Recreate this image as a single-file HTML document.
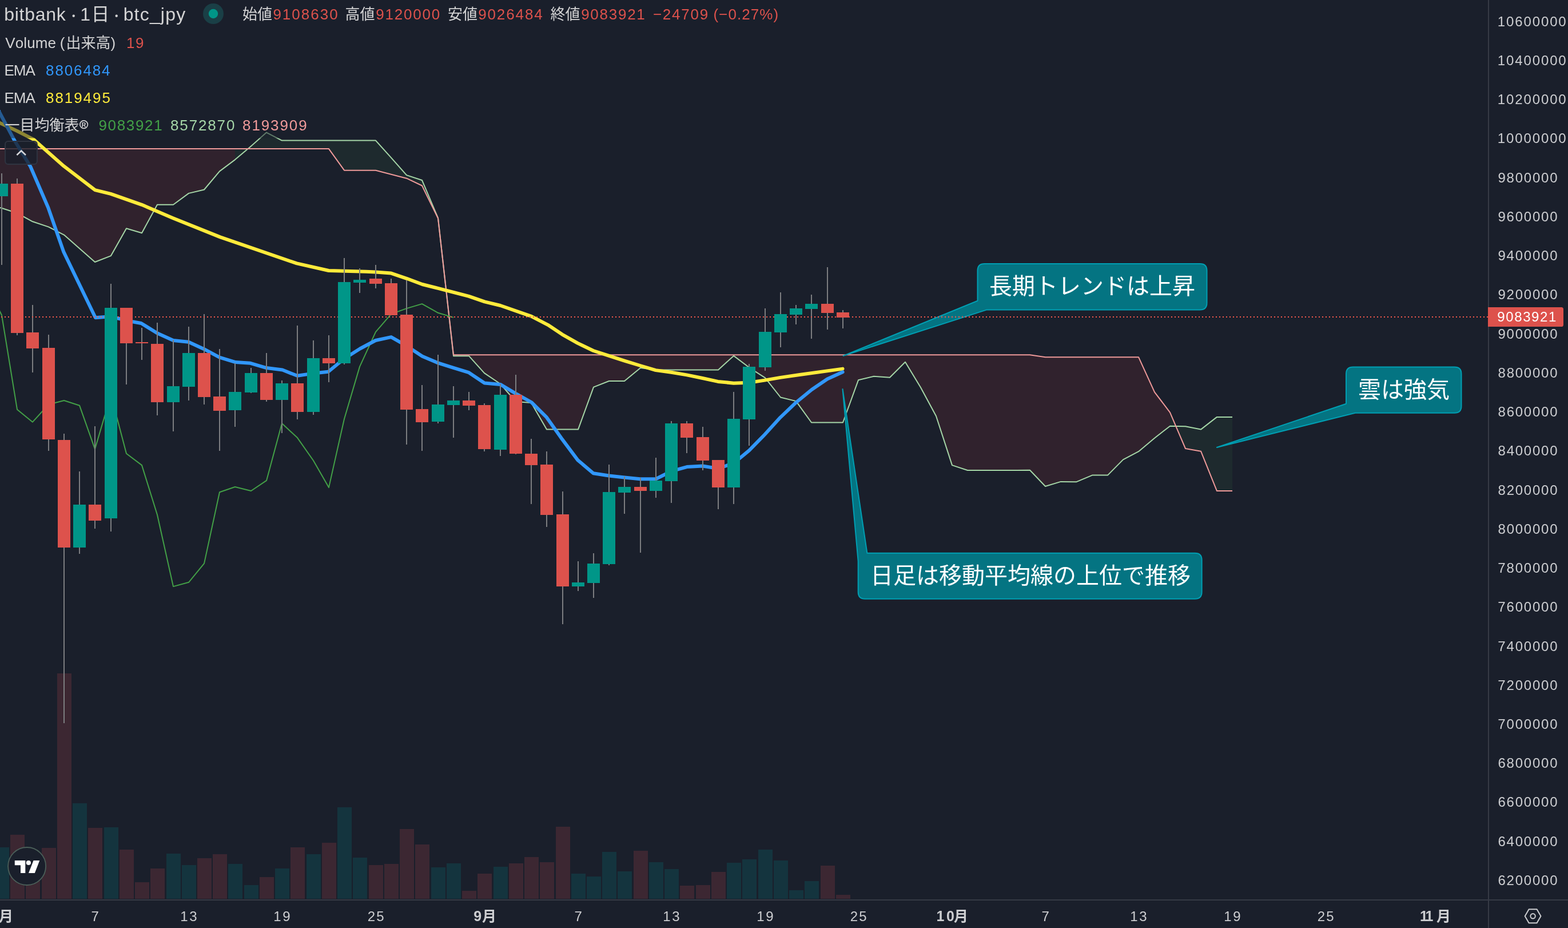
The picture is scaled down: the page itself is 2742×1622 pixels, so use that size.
<!DOCTYPE html>
<html lang="ja">
<head>
<meta charset="utf-8">
<title>bitbank 1D btc_jpy</title>
<style>
html,body{margin:0;padding:0;background:#1a1f2b;overflow:hidden}
body{width:2742px;height:1622px}
svg{display:block;will-change:transform}
text{font-family:"Liberation Sans","Noto Sans CJK JP",sans-serif;font-kerning:none;white-space:pre}
</style>
</head>
<body>
<svg width="2742" height="1622" viewBox="0 0 2742 1622">
<rect width="2742" height="1622" fill="#1a1f2b"/>
<polygon fill="#30222d" points="-24,356.8 3,363.8 30,372.5 57,387.3 85,396.6 112,410.6 139,434.3 166,458 194,447.1 221,399.2 248,407.2 275,357.8 303,357.8 330,337.9 357,331.5 384,299.4 411,279.1 411,260.1 384,260.1 357,260.1 330,260.1 303,260.1 275,260.1 248,260.1 221,260.1 194,260.1 166,260.1 139,260.1 112,260.1 85,260.1 57,260.1 30,260.1 3,260.1 -24,260.1"/>
<polygon fill="#1e2a2e" points="411,279.1 439,255.4 466,231.6 493,245.6 520,245.6 548,245.6 575,245.6 602,245.6 629,245.6 657,245.6 684,275.7 711,306.1 738,315 766,380.9 766,381.5 738,324.5 711,311.7 684,304.7 657,297.7 629,297.7 602,297.7 575,260.1 548,260.1 520,260.1 493,260.1 466,260.1 439,260.1 411,260.1"/>
<polygon fill="#30222d" points="820,622.2 847,652.2 875,671 902,702 929,704 956,750.6 984,750.6 1011,750.6 1038,676.6 1065,666 1092,666 1120,643.1 1147,646.5 1174,646.5 1201,646.5 1229,646.5 1256,646.5 1283,621.9 1310,642.3 1338,660.4 1365,694.5 1392,701.1 1419,738.5 1447,738.5 1474,738.5 1501,664.3 1528,657.8 1556,659.8 1583,632.8 1610,677.2 1637,727.2 1665,813.1 1692,822 1719,822 1746,822 1773,822 1801,821.8 1828,850 1855,841.9 1882,842.3 1910,830.6 1937,830.6 1964,803.4 1991,789.2 2019,765.7 2046,744.7 2046,720.8 2019,685.3 1991,624.2 1964,624.2 1937,624.2 1910,624.2 1882,624.2 1855,624.2 1828,624.2 1801,620.2 1773,620.2 1746,620.2 1719,620.2 1692,620.2 1665,620.2 1637,620.2 1610,620.2 1583,620.2 1556,620.2 1528,620.2 1501,620.2 1474,620.2 1447,620.2 1419,620.2 1392,620.2 1365,620.2 1338,620.2 1310,620.2 1283,620.2 1256,620.2 1229,620.2 1201,620.2 1174,620.2 1147,620.2 1120,620.2 1092,620.2 1065,620.2 1038,620.2 1011,620.2 984,620.2 956,620.2 929,620.2 902,620.2 875,620.2 847,620.2 820,620.2"/>
<polygon fill="#1e2a2e" points="2046,744.7 2073,745.3 2100,750.6 2128,728.9 2155,728.9 2155,858.1 2128,858.1 2100,788.7 2073,784 2046,720.8"/>
<rect x="-9" y="1481" width="25" height="90" fill="#14343e"/>
<rect x="18" y="1459" width="25" height="112" fill="#3c2732"/>
<rect x="45" y="1490" width="25" height="81" fill="#3c2732"/>
<rect x="73" y="1482" width="25" height="89" fill="#3c2732"/>
<rect x="100" y="1177" width="25" height="394" fill="#3c2732"/>
<rect x="127" y="1404" width="25" height="167" fill="#14343e"/>
<rect x="154" y="1447" width="25" height="124" fill="#3c2732"/>
<rect x="182" y="1446" width="25" height="125" fill="#14343e"/>
<rect x="209" y="1485" width="25" height="86" fill="#3c2732"/>
<rect x="236" y="1542" width="25" height="29" fill="#3c2732"/>
<rect x="263" y="1518" width="25" height="53" fill="#3c2732"/>
<rect x="291" y="1492" width="25" height="79" fill="#14343e"/>
<rect x="318" y="1512" width="25" height="59" fill="#14343e"/>
<rect x="345" y="1500" width="25" height="71" fill="#3c2732"/>
<rect x="372" y="1493" width="25" height="78" fill="#3c2732"/>
<rect x="399" y="1510" width="25" height="61" fill="#14343e"/>
<rect x="427" y="1547" width="25" height="24" fill="#14343e"/>
<rect x="454" y="1533" width="25" height="38" fill="#3c2732"/>
<rect x="481" y="1518" width="25" height="53" fill="#14343e"/>
<rect x="508" y="1481" width="25" height="90" fill="#3c2732"/>
<rect x="536" y="1493" width="25" height="78" fill="#14343e"/>
<rect x="563" y="1473" width="25" height="98" fill="#3c2732"/>
<rect x="590" y="1411" width="25" height="160" fill="#14343e"/>
<rect x="617" y="1499" width="25" height="72" fill="#14343e"/>
<rect x="645" y="1512" width="25" height="59" fill="#3c2732"/>
<rect x="672" y="1510" width="25" height="61" fill="#3c2732"/>
<rect x="699" y="1449" width="25" height="122" fill="#3c2732"/>
<rect x="726" y="1476" width="25" height="95" fill="#3c2732"/>
<rect x="754" y="1516" width="25" height="55" fill="#14343e"/>
<rect x="781" y="1509" width="25" height="62" fill="#14343e"/>
<rect x="808" y="1557" width="25" height="14" fill="#3c2732"/>
<rect x="835" y="1527" width="25" height="44" fill="#3c2732"/>
<rect x="863" y="1515" width="25" height="56" fill="#14343e"/>
<rect x="890" y="1509" width="25" height="62" fill="#3c2732"/>
<rect x="917" y="1498" width="25" height="73" fill="#3c2732"/>
<rect x="944" y="1507" width="25" height="64" fill="#3c2732"/>
<rect x="972" y="1445" width="25" height="126" fill="#3c2732"/>
<rect x="999" y="1527" width="25" height="44" fill="#14343e"/>
<rect x="1026" y="1532" width="25" height="39" fill="#14343e"/>
<rect x="1053" y="1489" width="25" height="82" fill="#14343e"/>
<rect x="1080" y="1523" width="25" height="48" fill="#14343e"/>
<rect x="1108" y="1487" width="25" height="84" fill="#3c2732"/>
<rect x="1135" y="1507" width="25" height="64" fill="#14343e"/>
<rect x="1162" y="1519" width="25" height="52" fill="#14343e"/>
<rect x="1189" y="1548" width="25" height="23" fill="#3c2732"/>
<rect x="1217" y="1547" width="25" height="24" fill="#3c2732"/>
<rect x="1244" y="1524" width="25" height="47" fill="#3c2732"/>
<rect x="1271" y="1508" width="25" height="63" fill="#14343e"/>
<rect x="1298" y="1502" width="25" height="69" fill="#14343e"/>
<rect x="1326" y="1485" width="25" height="86" fill="#14343e"/>
<rect x="1353" y="1504" width="25" height="67" fill="#14343e"/>
<rect x="1380" y="1556" width="25" height="15" fill="#14343e"/>
<rect x="1407" y="1540" width="25" height="31" fill="#14343e"/>
<rect x="1435" y="1513" width="25" height="58" fill="#3c2732"/>
<rect x="1462" y="1564" width="25" height="7" fill="#3c2732"/>
<polyline fill="none" stroke="#a5d6a7" stroke-width="2" stroke-linejoin="round" points="-24,356.8 3,363.8 30,372.5 57,387.3 85,396.6 112,410.6 139,434.3 166,458 194,447.1 221,399.2 248,407.2 275,357.8 303,357.8 330,337.9 357,331.5 384,299.4 411,279.1 439,255.4 466,231.6 493,245.6 520,245.6 548,245.6 575,245.6 602,245.6 629,245.6 657,245.6 684,275.7 711,306.1 738,315 766,380.9 793,622.2 820,622.2 847,652.2 875,671 902,702 929,704 956,750.6 984,750.6 1011,750.6 1038,676.6 1065,666 1092,666 1120,643.1 1147,646.5 1174,646.5 1201,646.5 1229,646.5 1256,646.5 1283,621.9 1310,642.3 1338,660.4 1365,694.5 1392,701.1 1419,738.5 1447,738.5 1474,738.5 1501,664.3 1528,657.8 1556,659.8 1583,632.8 1610,677.2 1637,727.2 1665,813.1 1692,822 1719,822 1746,822 1773,822 1801,821.8 1828,850 1855,841.9 1882,842.3 1910,830.6 1937,830.6 1964,803.4 1991,789.2 2019,765.7 2046,744.7 2073,745.3 2100,750.6 2128,728.9 2155,728.9"/>
<polyline fill="none" stroke="#ef9a9a" stroke-width="2" stroke-linejoin="round" points="-24,260.1 3,260.1 30,260.1 57,260.1 85,260.1 112,260.1 139,260.1 166,260.1 194,260.1 221,260.1 248,260.1 275,260.1 303,260.1 330,260.1 357,260.1 384,260.1 411,260.1 439,260.1 466,260.1 493,260.1 520,260.1 548,260.1 575,260.1 602,297.7 629,297.7 657,297.7 684,304.7 711,311.7 738,324.5 766,381.5 793,620.2 820,620.2 847,620.2 875,620.2 902,620.2 929,620.2 956,620.2 984,620.2 1011,620.2 1038,620.2 1065,620.2 1092,620.2 1120,620.2 1147,620.2 1174,620.2 1201,620.2 1229,620.2 1256,620.2 1283,620.2 1310,620.2 1338,620.2 1365,620.2 1392,620.2 1419,620.2 1447,620.2 1474,620.2 1501,620.2 1528,620.2 1556,620.2 1583,620.2 1610,620.2 1637,620.2 1665,620.2 1692,620.2 1719,620.2 1746,620.2 1773,620.2 1801,620.2 1828,624.2 1855,624.2 1882,624.2 1910,624.2 1937,624.2 1964,624.2 1991,624.2 2019,685.3 2046,720.8 2073,784 2100,788.7 2128,858.1 2155,858.1"/>
<polyline fill="none" stroke="#43a047" stroke-width="2" stroke-linejoin="round" points="-24,496.1 3,550.8 30,715.7 57,737.7 85,707 112,700 139,708.7 166,784.9 194,690 221,792.7 248,813.1 275,899.8 303,1025.1 330,1017.8 357,984.9 384,860.2 411,851 439,858 466,839.9 493,740 520,765.1 548,805 575,852.1 602,732.2 629,640.9 657,580.1 684,548.9 711,539.1 738,531.1 766,546.8 793,554.9"/>
<polyline fill="none" stroke="#ffeb3b" stroke-width="6" stroke-linejoin="round" stroke-linecap="round" points="-10,210.2 0,214.9 30,229 58.6,243.6 111.4,290.2 166.2,332.1 193.7,338.8 247.8,357.8 302.5,381.2 385,414.4 519,460.4 574.8,473 640,474.7 656.8,475.4 684,477.6 711.2,486.8 738.5,497 766,503.9 820,517.8 847.5,527.4 875,534 929.2,552.8 958.1,567.8 983.2,584.6 1010.3,599.9 1037.6,613 1065,621.9 1092,630.6 1119.4,639 1146.7,647.1 1173.8,650.7 1201.1,655.4 1228.5,661 1255.5,666.9 1282.9,669.7 1310,668.8 1337.3,664.6 1364.6,659.9 1400,654.8 1473.6,644.6"/>
<polyline fill="none" stroke="#3197fb" stroke-width="6" stroke-linejoin="round" stroke-linecap="round" points="-10,179.2 0,198 24.6,244.2 53.2,291 84.2,362.8 111.4,440.4 166.9,555.3 192.5,553.3 231.6,562.2 246.9,565 274.8,582.3 303,594.9 329.8,597.7 356.9,610.2 383.9,624.7 411.8,633.1 438,634.8 466,643.1 493.9,646.5 519.8,656.8 548,652.6 574,649.8 601.8,627 629.5,609.5 656.8,595 684,589.1 711.2,604.7 738.5,622.8 766,634.4 792.9,642.8 819.9,651.2 847.2,669.6 875,671.9 901.9,687.8 929.2,703 955.9,729.4 983.2,767.9 1010.3,804.1 1037.6,827.3 1065,831.5 1092,834.6 1119.4,837.3 1146.7,837.3 1173.8,823.7 1201.1,816.1 1228.5,814.5 1255.5,818.9 1282.9,809.7 1310,787.4 1337.3,759.5 1364.6,729.6 1392,703.5 1419.5,681 1446.7,662.5 1473.6,650.2"/>
<path d="M1721.5 461 H2098.5 Q2110.5 461 2110.5 473 V529.6 Q2110.5 541.6 2098.5 541.6 H1725 L1474.7 621.9 L1709.5 525.7 V473 Q1709.5 461 1721.5 461 Z" fill="#047482" stroke="#009fb3" stroke-width="2" stroke-linejoin="round"/>
<text x="1730" y="514" font-size="40" fill="#ffffff">長期トレンドは上昇</text>
<path d="M2366 641.5 H2543.5 Q2555.5 641.5 2555.5 653.5 V709.7 Q2555.5 721.7 2543.5 721.7 H2370 L2127.9 782 L2354 705.7 V653.5 Q2354 641.5 2366 641.5 Z" fill="#047482" stroke="#009fb3" stroke-width="2" stroke-linejoin="round"/>
<text x="2375" y="695" font-size="40" fill="#ffffff">雲は強気</text>
<path d="M1516.4 966.8 H2089.6 Q2101.6 966.8 2101.6 978.8 V1034.8 Q2101.6 1046.8 2089.6 1046.8 H1512.7 Q1500.7 1046.8 1500.7 1034.8 V981 L1473.5 680 Z" fill="#047482" stroke="#009fb3" stroke-width="2" stroke-linejoin="round"/>
<text x="1522" y="1020" font-size="40" fill="#ffffff">日足は移動平均線の上位で推移</text>
<rect x="2" y="303" width="2" height="160" fill="#7c7d80"/>
<rect x="29" y="312" width="2" height="274" fill="#7c7d80"/>
<rect x="56" y="533" width="2" height="118" fill="#7c7d80"/>
<rect x="84" y="585" width="2" height="203" fill="#7c7d80"/>
<rect x="111" y="758" width="2" height="506" fill="#7c7d80"/>
<rect x="138" y="824" width="2" height="144" fill="#7c7d80"/>
<rect x="165" y="745" width="2" height="179" fill="#7c7d80"/>
<rect x="193" y="496" width="2" height="433" fill="#7c7d80"/>
<rect x="220" y="538" width="2" height="134" fill="#7c7d80"/>
<rect x="247" y="573" width="2" height="56" fill="#7c7d80"/>
<rect x="274" y="564" width="2" height="162" fill="#7c7d80"/>
<rect x="302" y="594" width="2" height="160" fill="#7c7d80"/>
<rect x="329" y="571" width="2" height="129" fill="#7c7d80"/>
<rect x="356" y="549" width="2" height="158" fill="#7c7d80"/>
<rect x="383" y="610" width="2" height="178" fill="#7c7d80"/>
<rect x="410" y="635" width="2" height="111" fill="#7c7d80"/>
<rect x="438" y="643" width="2" height="44" fill="#7c7d80"/>
<rect x="465" y="617" width="2" height="85" fill="#7c7d80"/>
<rect x="492" y="665" width="2" height="92" fill="#7c7d80"/>
<rect x="519" y="569" width="2" height="164" fill="#7c7d80"/>
<rect x="547" y="595" width="2" height="130" fill="#7c7d80"/>
<rect x="574" y="586" width="2" height="82" fill="#7c7d80"/>
<rect x="601" y="451" width="2" height="186" fill="#7c7d80"/>
<rect x="628" y="469" width="2" height="43" fill="#7c7d80"/>
<rect x="656" y="463" width="2" height="41" fill="#7c7d80"/>
<rect x="683" y="487" width="2" height="64" fill="#7c7d80"/>
<rect x="710" y="490" width="2" height="287" fill="#7c7d80"/>
<rect x="737" y="673" width="2" height="115" fill="#7c7d80"/>
<rect x="765" y="620" width="2" height="120" fill="#7c7d80"/>
<rect x="792" y="675" width="2" height="90" fill="#7c7d80"/>
<rect x="819" y="685" width="2" height="32" fill="#7c7d80"/>
<rect x="846" y="705" width="2" height="84" fill="#7c7d80"/>
<rect x="874" y="671" width="2" height="126" fill="#7c7d80"/>
<rect x="901" y="655" width="2" height="139" fill="#7c7d80"/>
<rect x="928" y="767" width="2" height="114" fill="#7c7d80"/>
<rect x="955" y="789" width="2" height="132" fill="#7c7d80"/>
<rect x="983" y="859" width="2" height="232" fill="#7c7d80"/>
<rect x="1010" y="981" width="2" height="52" fill="#7c7d80"/>
<rect x="1037" y="967" width="2" height="78" fill="#7c7d80"/>
<rect x="1064" y="812" width="2" height="176" fill="#7c7d80"/>
<rect x="1091" y="833" width="2" height="65" fill="#7c7d80"/>
<rect x="1119" y="835" width="2" height="131" fill="#7c7d80"/>
<rect x="1146" y="800" width="2" height="70" fill="#7c7d80"/>
<rect x="1173" y="736" width="2" height="143" fill="#7c7d80"/>
<rect x="1200" y="736" width="2" height="56" fill="#7c7d80"/>
<rect x="1228" y="746" width="2" height="76" fill="#7c7d80"/>
<rect x="1255" y="804" width="2" height="86" fill="#7c7d80"/>
<rect x="1282" y="685" width="2" height="196" fill="#7c7d80"/>
<rect x="1309" y="636" width="2" height="143" fill="#7c7d80"/>
<rect x="1337" y="539" width="2" height="109" fill="#7c7d80"/>
<rect x="1364" y="511" width="2" height="96" fill="#7c7d80"/>
<rect x="1391" y="533" width="2" height="34" fill="#7c7d80"/>
<rect x="1418" y="515" width="2" height="77" fill="#7c7d80"/>
<rect x="1446" y="467" width="2" height="109" fill="#7c7d80"/>
<rect x="1473" y="542" width="2" height="32" fill="#7c7d80"/>
<line x1="0" y1="554" x2="2603" y2="554" stroke="#f85a4d" stroke-width="2" stroke-dasharray="2 4" stroke-dashoffset="-2"/>
<rect x="-8" y="321" width="22" height="22" fill="#009688"/>
<rect x="19" y="321" width="22" height="261" fill="#dd524c"/>
<rect x="46" y="581" width="22" height="28" fill="#dd524c"/>
<rect x="74" y="608" width="22" height="160" fill="#dd524c"/>
<rect x="101" y="769" width="22" height="188" fill="#dd524c"/>
<rect x="128" y="882" width="22" height="75" fill="#009688"/>
<rect x="155" y="882" width="22" height="28" fill="#dd524c"/>
<rect x="183" y="538" width="22" height="368" fill="#009688"/>
<rect x="210" y="538" width="22" height="62" fill="#dd524c"/>
<rect x="237" y="598" width="22" height="2" fill="#dd524c"/>
<rect x="264" y="601" width="22" height="102" fill="#dd524c"/>
<rect x="292" y="675" width="22" height="28" fill="#009688"/>
<rect x="319" y="617" width="22" height="59" fill="#009688"/>
<rect x="346" y="617" width="22" height="77" fill="#dd524c"/>
<rect x="373" y="693" width="22" height="25" fill="#dd524c"/>
<rect x="400" y="685" width="22" height="32" fill="#009688"/>
<rect x="428" y="652" width="22" height="34" fill="#009688"/>
<rect x="455" y="652" width="22" height="47" fill="#dd524c"/>
<rect x="482" y="670" width="22" height="29" fill="#009688"/>
<rect x="509" y="670" width="22" height="50" fill="#dd524c"/>
<rect x="537" y="626" width="22" height="94" fill="#009688"/>
<rect x="564" y="626" width="22" height="9" fill="#dd524c"/>
<rect x="591" y="493" width="22" height="142" fill="#009688"/>
<rect x="618" y="489" width="22" height="5" fill="#009688"/>
<rect x="646" y="487" width="22" height="9" fill="#dd524c"/>
<rect x="673" y="495" width="22" height="56" fill="#dd524c"/>
<rect x="700" y="550" width="22" height="166" fill="#dd524c"/>
<rect x="727" y="715" width="22" height="23" fill="#dd524c"/>
<rect x="755" y="707" width="22" height="30" fill="#009688"/>
<rect x="782" y="700" width="22" height="8" fill="#009688"/>
<rect x="809" y="700" width="22" height="9" fill="#dd524c"/>
<rect x="836" y="708" width="22" height="77" fill="#dd524c"/>
<rect x="864" y="690" width="22" height="96" fill="#009688"/>
<rect x="891" y="690" width="22" height="103" fill="#dd524c"/>
<rect x="918" y="793" width="22" height="20" fill="#dd524c"/>
<rect x="945" y="812" width="22" height="88" fill="#dd524c"/>
<rect x="973" y="899" width="22" height="126" fill="#dd524c"/>
<rect x="1000" y="1018" width="22" height="7" fill="#009688"/>
<rect x="1027" y="985" width="22" height="34" fill="#009688"/>
<rect x="1054" y="860" width="22" height="126" fill="#009688"/>
<rect x="1081" y="851" width="22" height="10" fill="#009688"/>
<rect x="1109" y="851" width="22" height="7" fill="#dd524c"/>
<rect x="1136" y="840" width="22" height="18" fill="#009688"/>
<rect x="1163" y="740" width="22" height="101" fill="#009688"/>
<rect x="1190" y="740" width="22" height="25" fill="#dd524c"/>
<rect x="1218" y="764" width="22" height="41" fill="#dd524c"/>
<rect x="1245" y="804" width="22" height="48" fill="#dd524c"/>
<rect x="1272" y="732" width="22" height="120" fill="#009688"/>
<rect x="1299" y="641" width="22" height="92" fill="#009688"/>
<rect x="1327" y="580" width="22" height="62" fill="#009688"/>
<rect x="1354" y="549" width="22" height="32" fill="#009688"/>
<rect x="1381" y="539" width="22" height="11" fill="#009688"/>
<rect x="1408" y="531" width="22" height="9" fill="#009688"/>
<rect x="1436" y="531" width="22" height="16" fill="#dd524c"/>
<rect x="1463" y="546" width="22" height="9" fill="#dd524c"/>
<rect x="0" y="194" width="546" height="47.5" fill="#1a1f2b" opacity="0.5"/>
<rect x="2602" y="0" width="140" height="1622" fill="#1a1f2b"/>
<rect x="0" y="1572" width="2742" height="50" fill="#1a1f2b"/>
<rect x="2602" y="0" width="2" height="1622" fill="#363a45"/>
<rect x="0" y="1572" width="2742" height="2" fill="#363a45"/>
<text x="2618.77" y="45.68" font-size="24" fill="#cdced1" letter-spacing="1.88">10600000</text>
<text x="2618.77" y="113.92" font-size="24" fill="#cdced1" letter-spacing="1.88">10400000</text>
<text x="2618.77" y="182.16" font-size="24" fill="#cdced1" letter-spacing="1.88">10200000</text>
<text x="2618.77" y="250.4" font-size="24" fill="#cdced1" letter-spacing="1.88">10000000</text>
<text x="2619.47" y="318.64" font-size="24" fill="#cdced1" letter-spacing="1.77">9800000</text>
<text x="2619.47" y="386.88" font-size="24" fill="#cdced1" letter-spacing="1.77">9600000</text>
<text x="2619.47" y="455.12" font-size="24" fill="#cdced1" letter-spacing="1.77">9400000</text>
<text x="2619.47" y="523.36" font-size="24" fill="#cdced1" letter-spacing="1.77">9200000</text>
<text x="2619.47" y="591.6" font-size="24" fill="#cdced1" letter-spacing="1.77">9000000</text>
<text x="2619.56" y="659.84" font-size="24" fill="#cdced1" letter-spacing="1.76">8800000</text>
<text x="2619.56" y="728.08" font-size="24" fill="#cdced1" letter-spacing="1.76">8600000</text>
<text x="2619.56" y="796.32" font-size="24" fill="#cdced1" letter-spacing="1.76">8400000</text>
<text x="2619.56" y="864.56" font-size="24" fill="#cdced1" letter-spacing="1.76">8200000</text>
<text x="2619.56" y="932.8" font-size="24" fill="#cdced1" letter-spacing="1.76">8000000</text>
<text x="2619.37" y="1001.04" font-size="24" fill="#cdced1" letter-spacing="1.79">7800000</text>
<text x="2619.37" y="1069.28" font-size="24" fill="#cdced1" letter-spacing="1.79">7600000</text>
<text x="2619.37" y="1137.52" font-size="24" fill="#cdced1" letter-spacing="1.79">7400000</text>
<text x="2619.37" y="1205.76" font-size="24" fill="#cdced1" letter-spacing="1.79">7200000</text>
<text x="2619.37" y="1274" font-size="24" fill="#cdced1" letter-spacing="1.79">7000000</text>
<text x="2619.38" y="1342.24" font-size="24" fill="#cdced1" letter-spacing="1.79">6800000</text>
<text x="2619.38" y="1410.48" font-size="24" fill="#cdced1" letter-spacing="1.79">6600000</text>
<text x="2619.38" y="1478.72" font-size="24" fill="#cdced1" letter-spacing="1.79">6400000</text>
<text x="2619.38" y="1546.96" font-size="24" fill="#cdced1" letter-spacing="1.79">6200000</text>
<path d="M2602 537 H2730.4 Q2734 537 2734 540.6 V567.4 Q2734 571 2730.4 571 H2602 Z" fill="#dd524c"/>
<text x="2618.28" y="562.2" font-size="24" fill="#ffffff" letter-spacing="1.61">9083921</text>
<text x="159.61" y="1610.4" font-size="24" fill="#cdced1">7</text>
<text x="315.17" y="1610.4" font-size="24" fill="#cdced1" letter-spacing="2.79">13</text>
<text x="478.17" y="1610.4" font-size="24" fill="#cdced1" letter-spacing="2.87">19</text>
<text x="642.79" y="1610.4" font-size="24" fill="#cdced1" letter-spacing="2.12">25</text>
<text x="1004.61" y="1610.4" font-size="24" fill="#cdced1">7</text>
<text x="1159.17" y="1610.4" font-size="24" fill="#cdced1" letter-spacing="2.79">13</text>
<text x="1323.17" y="1610.4" font-size="24" fill="#cdced1" letter-spacing="2.87">19</text>
<text x="1486.79" y="1610.4" font-size="24" fill="#cdced1" letter-spacing="2.12">25</text>
<text x="1821.61" y="1610.4" font-size="24" fill="#cdced1">7</text>
<text x="1976.17" y="1610.4" font-size="24" fill="#cdced1" letter-spacing="2.79">13</text>
<text x="2140.17" y="1610.4" font-size="24" fill="#cdced1" letter-spacing="2.87">19</text>
<text x="2303.79" y="1610.4" font-size="24" fill="#cdced1" letter-spacing="2.12">25</text>
<text x="-2" y="1610.2" font-size="25" fill="#cdced1" font-weight="700">月</text>
<text x="828.18" y="1610.4" font-size="25" fill="#cdced1" font-weight="700">9</text>
<text x="843" y="1610.4" font-size="25" fill="#cdced1" font-weight="700">月</text>
<text x="1637.43" y="1610.4" font-size="25" fill="#cdced1" font-weight="700" letter-spacing="3.59">10</text>
<text x="1668" y="1610.4" font-size="25" fill="#cdced1" font-weight="700">月</text>
<text x="2483.03" y="1610.4" font-size="25" fill="#cdced1" font-weight="700" letter-spacing="-4.54">11</text>
<text x="2512" y="1610.4" font-size="25" fill="#cdced1" font-weight="700">月</text>
<polygon fill="none" stroke="#cdced1" stroke-width="2" stroke-linejoin="round" points="2694.5,1601.2 2687.55,1613.24 2673.65,1613.24 2666.7,1601.2 2673.65,1589.16 2687.55,1589.16"/>
<circle cx="2680.6" cy="1601.2" r="4.2" fill="none" stroke="#cdced1" stroke-width="2"/>
<text x="7.24" y="36" font-size="32" fill="#d3d3d4" letter-spacing="0.74">bitbank</text>
<circle cx="128.7" cy="27.8" r="2.2" fill="#d3d3d4"/>
<text x="140.31" y="36" font-size="32" fill="#d3d3d4">1</text>
<text x="159.6" y="36" font-size="32" fill="#d3d3d4">日</text>
<circle cx="203.7" cy="27.8" r="2.2" fill="#d3d3d4"/>
<text x="215.64" y="36" font-size="32" fill="#d3d3d4" letter-spacing="1.19">btc_jpy</text>
<circle cx="373" cy="24" r="18" fill="#1a3f46"/>
<circle cx="373" cy="24" r="8.2" fill="#009688"/>
<text x="424" y="34.2" font-size="26" fill="#d3d3d4">始値</text>
<text x="477.38" y="34.2" font-size="26" fill="#dd524c" letter-spacing="2.04">9108630</text>
<text x="603.5" y="34.2" font-size="26" fill="#d3d3d4">高値</text>
<text x="657.18" y="34.2" font-size="26" fill="#dd524c" letter-spacing="1.8">9120000</text>
<text x="783" y="34.2" font-size="26" fill="#d3d3d4">安値</text>
<text x="836.18" y="34.2" font-size="26" fill="#dd524c" letter-spacing="1.89">9026484</text>
<text x="962.5" y="34.2" font-size="26" fill="#d3d3d4">終値</text>
<text x="1016.18" y="34.2" font-size="26" fill="#dd524c" letter-spacing="1.74">9083921</text>
<text x="1141.92" y="34.2" font-size="26" fill="#dd524c" letter-spacing="1.77">−24709</text>
<text x="1247.39" y="34.2" font-size="26" fill="#dd524c" letter-spacing="1.09">(−0.27%)</text>
<text x="9.19" y="84.2" font-size="26" fill="#d3d3d4" letter-spacing="0.12">Volume</text>
<text x="104.74" y="84.2" font-size="26" fill="#d3d3d4">(</text>
<text x="115.5" y="84.2" font-size="26" fill="#d3d3d4">出来高</text>
<text x="193.4" y="84.2" font-size="26" fill="#d3d3d4">)</text>
<text x="221.02" y="84.2" font-size="26" fill="#dd524c" letter-spacing="1.49">19</text>
<text x="7.47" y="131.8" font-size="26" fill="#d3d3d4" letter-spacing="-0.98">EMA</text>
<text x="80.07" y="131.8" font-size="26" fill="#3197fb" letter-spacing="1.88">8806484</text>
<text x="7.47" y="180" font-size="26" fill="#d3d3d4" letter-spacing="-0.98">EMA</text>
<text x="80.07" y="180" font-size="26" fill="#ffeb3b" letter-spacing="1.93">8819495</text>
<text x="8.5" y="227.8" font-size="26" fill="#d3d3d4">一目均衡表</text>
<circle cx="146.6" cy="217.6" r="6.8" fill="none" stroke="#d3d3d4" stroke-width="1.7"/>
<text x="142.72" y="221.5" font-size="10.5" fill="#d3d3d4" font-weight="700">R</text>
<text x="172.38" y="228.2" font-size="26" fill="#43a047" letter-spacing="1.68">9083921</text>
<text x="298.07" y="228.2" font-size="26" fill="#a5d6a7" letter-spacing="1.85">8572870</text>
<text x="424.07" y="228.2" font-size="26" fill="#ef9a9a" letter-spacing="1.89">8193909</text>
<rect x="9.1" y="247.1" width="55.8" height="40" rx="5" fill="#1a1f2b" fill-opacity="0.8" stroke="#2f3441" stroke-width="2"/>
<polyline fill="none" stroke="#d6d7da" stroke-width="2.6" points="29.4,271 37.2,263.6 45,271"/>
<circle cx="47.1" cy="1514" r="33" fill="#1a1f2b" stroke="#4b5f59" stroke-width="1.8"/>
<path fill="#ffffff" d="M25.8 1503.9 H44.3 V1526 H36 V1512.3 H25.8 Z M58.6 1503.9 H69.3 L60.8 1526 H50 Z"/>
<circle cx="49.9" cy="1508" r="4.1" fill="#ffffff"/>
</svg>
</body>
</html>
